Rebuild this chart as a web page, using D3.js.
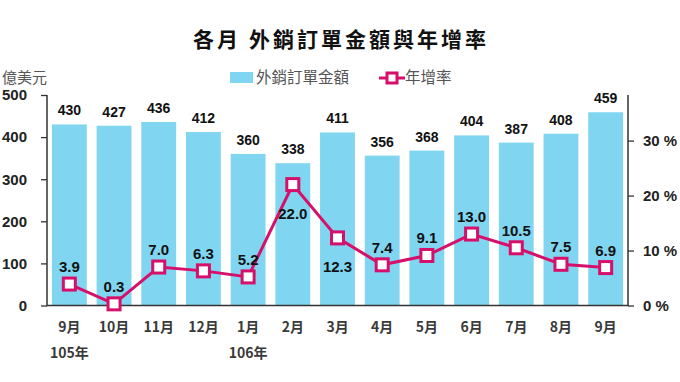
<!DOCTYPE html>
<html>
<head>
<meta charset="utf-8">
<script src="https://cdn.jsdelivr.net/npm/d3@7"></script>
<style>
  body { margin: 0; background: #fff; }
  svg { display: block; }
</style>
</head>
<body>
<div id="chart"></div>
<script>

// data
var months = ["9月", "10月", "11月", "12月", "1月", "2月", "3月", "4月", "5月", "6月", "7月", "8月", "9月"];
var orders = [430, 427, 436, 412, 360, 338, 411, 356, 368, 404, 387, 408, 459];
var growth = [3.9, 0.3, 7.0, 6.3, 5.2, 22.0, 12.3, 7.4, 9.1, 13.0, 10.5, 7.5, 6.9];
var yearLabels = [[0, "105年"], [4, "106年"]];
var leftTicks = [0, 100, 200, 300, 400, 500];
var rightTicks = [0, 10, 20, 30];
// labels of the line that sit under the marker
var belowLabels = [5, 6];

var width = 680, height = 382;
var plotLeft = 47, plotRight = 628, plotTop = 95, plotBottom = 305.5;
var barColor = "#80d5f1";
var lineColor = "#d6106a";
var numFont = "'Liberation Sans Narrow', 'Liberation Sans', Arial, sans-serif";
var cjkFont = "'Noto Sans CJK TC', 'Noto Sans', sans-serif";

var svg = d3.select("#chart")
  .append("svg")
  .attr("width", width)
  .attr("height", height);

var x = d3.scaleBand()
  .domain(d3.range(months.length))
  .range([plotLeft, plotRight])
  .paddingInner(0.22)
  .paddingOuter(0.11);

var yLeft = d3.scaleLinear()
  .domain([0, 500])
  .range([plotBottom, plotTop]);

var yRight = d3.scaleLinear()
  .domain([0, 38.3])
  .range([plotBottom, plotTop]);

// title
svg.append("text")
  .attr("x", 341)
  .attr("y", 47)
  .attr("text-anchor", "middle")
  .attr("font-family", cjkFont)
  .attr("font-weight", "bold")
  .attr("font-size", 21)
  .attr("letter-spacing", 3)
  .attr("fill", "#111")
  .text("各月 外銷訂單金額與年增率");

// unit
svg.append("text")
  .attr("x", 2)
  .attr("y", 83)
  .attr("font-family", cjkFont)
  .attr("font-size", 15)
  .attr("fill", "#555")
  .text("億美元");

// legend
svg.append("rect")
  .attr("x", 230).attr("y", 72)
  .attr("width", 23).attr("height", 11)
  .attr("fill", barColor);
svg.append("text")
  .attr("x", 256).attr("y", 83)
  .attr("font-family", cjkFont)
  .attr("font-size", 15.5)
  .attr("fill", "#555")
  .text("外銷訂單金額");
svg.append("line")
  .attr("x1", 379).attr("x2", 405)
  .attr("y1", 78).attr("y2", 78)
  .attr("stroke", lineColor)
  .attr("stroke-width", 3);
svg.append("rect")
  .attr("x", 387).attr("y", 73)
  .attr("width", 10).attr("height", 10)
  .attr("fill", "#fff")
  .attr("stroke", lineColor)
  .attr("stroke-width", 3);
svg.append("text")
  .attr("x", 405).attr("y", 83)
  .attr("font-family", cjkFont)
  .attr("font-size", 15.5)
  .attr("fill", "#555")
  .text("年增率");

// bars
svg.selectAll("rect.bar")
  .data(orders)
  .enter()
  .append("rect")
  .attr("class", "bar")
  .attr("x", (d, i) => x(i))
  .attr("y", d => yLeft(d))
  .attr("width", x.bandwidth())
  .attr("height", d => plotBottom - yLeft(d))
  .attr("fill", barColor);

// bar values
svg.selectAll("text.barval")
  .data(orders)
  .enter()
  .append("text")
  .attr("class", "barval")
  .attr("x", (d, i) => x(i) + x.bandwidth() / 2)
  .attr("y", d => yLeft(d) - 9)
  .attr("text-anchor", "middle")
  .attr("font-family", numFont)
  .attr("font-weight", "bold")
  .attr("font-size", 14)
  .attr("fill", "#111")
  .text(d => d);

// axes
var leftAxis = d3.axisLeft(yLeft).tickValues(leftTicks).tickSize(6).tickPadding(14);
var gl = svg.append("g")
  .attr("transform", `translate(${plotLeft},0)`)
  .call(leftAxis);

var rightAxis = d3.axisRight(yRight).tickValues(rightTicks).tickSize(6).tickPadding(9)
  .tickFormat(d => d + " %");
var gr = svg.append("g")
  .attr("transform", `translate(${plotRight},0)`)
  .call(rightAxis);

var xAxis = d3.axisBottom(x).tickSize(0).tickPadding(17).tickFormat(i => months[i]);
var gx = svg.append("g")
  .attr("transform", `translate(0,${plotBottom})`)
  .call(xAxis);

[gl, gr].forEach(g => {
  g.selectAll("text")
    .attr("font-family", numFont)
    .attr("font-weight", "bold")
    .attr("font-size", 15)
    .attr("fill", "#222");
  g.selectAll("line").attr("stroke", "#333").attr("stroke-width", 1.3);
});
gl.select(".domain").remove();
gr.select(".domain").remove();
gx.select(".domain").remove();
gx.selectAll("text")
  .attr("font-family", cjkFont)
  .attr("font-weight", "bold")
  .attr("font-size", 14)
  .attr("fill", "#3a3a3a");

svg.append("path")
  .attr("d", `M${plotLeft},${plotTop}V${plotBottom}H${plotRight}V${plotTop}`)
  .attr("fill", "none")
  .attr("stroke", "#333")
  .attr("stroke-width", 1.5);

// year labels
svg.selectAll("text.year")
  .data(yearLabels)
  .enter()
  .append("text")
  .attr("class", "year")
  .attr("x", d => x(d[0]) + x.bandwidth() / 2)
  .attr("y", 358)
  .attr("text-anchor", "middle")
  .attr("font-family", cjkFont)
  .attr("font-weight", "bold")
  .attr("font-size", 14)
  .attr("fill", "#3a3a3a")
  .text(d => d[1]);

// growth line
var line = d3.line()
  .x((d, i) => x(i) + x.bandwidth() / 2)
  .y(d => yRight(d));

svg.append("path")
  .datum(growth)
  .attr("d", line)
  .attr("fill", "none")
  .attr("stroke", lineColor)
  .attr("stroke-width", 3);

svg.selectAll("rect.marker")
  .data(growth)
  .enter()
  .append("rect")
  .attr("class", "marker")
  .attr("x", (d, i) => x(i) + x.bandwidth() / 2 - 6)
  .attr("y", d => yRight(d) - 6)
  .attr("width", 12)
  .attr("height", 12)
  .attr("fill", "#fff")
  .attr("stroke", lineColor)
  .attr("stroke-width", 3);

svg.selectAll("text.rate")
  .data(growth)
  .enter()
  .append("text")
  .attr("class", "rate")
  .attr("x", (d, i) => x(i) + x.bandwidth() / 2)
  .attr("y", (d, i) => belowLabels.includes(i) ? yRight(d) + 34 : yRight(d) - 12)
  .attr("text-anchor", "middle")
  .attr("font-family", numFont)
  .attr("font-weight", "bold")
  .attr("font-size", 15)
  .attr("fill", "#111")
  .text(d => d.toFixed(1));

</script>
</body>
</html>
